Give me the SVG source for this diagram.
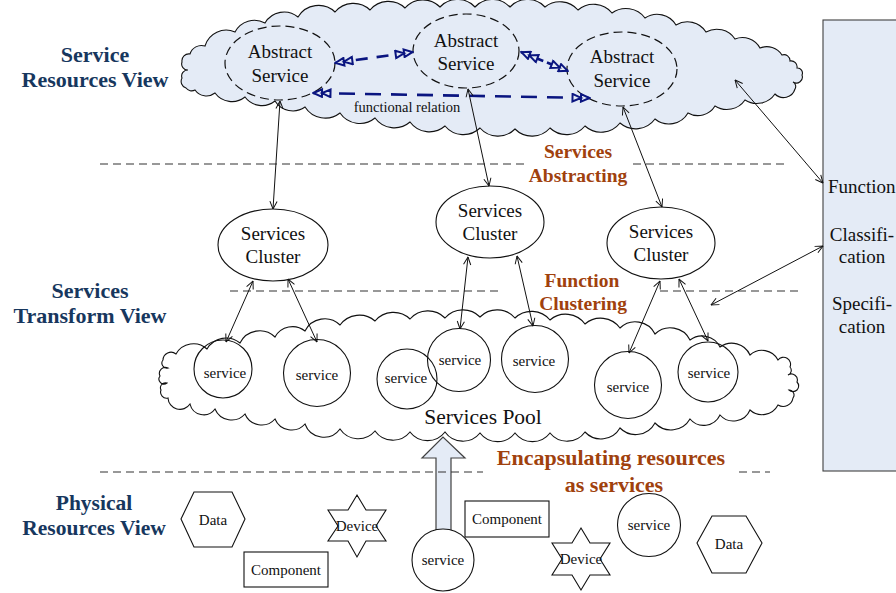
<svg xmlns="http://www.w3.org/2000/svg" width="896" height="593" viewBox="0 0 896 593">
  <defs>
    <style>
      .serif { font-family: "Liberation Serif", "Times New Roman", serif; fill: #111; }
      .lbl { font-size: 19px; text-anchor: middle; }
      .small { font-size: 15px; text-anchor: middle; }
      .view { font-family: "Liberation Serif", "Times New Roman", serif; font-weight: bold; font-size: 22px; fill: #17375e; text-anchor: middle; }
      .step { font-family: "Liberation Serif", "Times New Roman", serif; font-weight: bold; font-size: 19.5px; fill: #a0410d; text-anchor: middle; }
      .step.big { font-size: 22px; }
      .cloud { fill: #e4ebf6; stroke: #111; stroke-width: 1.1; }
      .pool { fill: #fff; stroke: #111; stroke-width: 1.1; }
      .abstract { fill: none; stroke: #111; stroke-width: 1.2; stroke-dasharray: 9 5; }
      .node { fill: #fff; stroke: #111; stroke-width: 1.1; }
      .svc { fill: none; stroke: #111; stroke-width: 1.1; }
      .sep { stroke: #333; stroke-width: 1.1; stroke-dasharray: 8 5; fill: none; }
      .link { stroke: #111; stroke-width: 1; fill: none; marker-start: url(#ah); marker-end: url(#ah); }
      .rel { stroke: #0a1580; stroke-width: 2.6; fill: none; marker-start: url(#dbl); marker-end: url(#dbl); }
    </style>
    <marker id="ah" viewBox="0 0 10 10" refX="9.5" refY="5" markerWidth="9" markerHeight="9" markerUnits="userSpaceOnUse" orient="auto-start-reverse">
      <path d="M1,1 L9.5,5 L1,9" fill="none" stroke="#111" stroke-width="1.1"/>
    </marker>
    <marker id="dbl" viewBox="0 0 20 10" refX="19" refY="5" markerWidth="20" markerHeight="10" markerUnits="userSpaceOnUse" orient="auto-start-reverse">
      <path d="M1.5,1.2 L10,5 L1.5,8.8 Z M10,1.2 L18.5,5 L10,8.8 Z" fill="#e4ebf6" stroke="#0a1580" stroke-width="2"/>
    </marker>
  </defs>

  <rect width="896" height="593" fill="#fff"/>

  <!-- view titles -->
  <g id="title-service-resources">
    <text class="view" x="95" y="62">Service</text>
    <text class="view" x="95" y="87">Resources View</text>
  </g>
  <g id="title-transform">
    <text class="view" x="90" y="298">Services</text>
    <text class="view" x="90" y="323">Transform View</text>
  </g>
  <g id="title-physical">
    <text class="view" x="94" y="510" style="font-size:21.5px">Physical</text>
    <text class="view" x="94" y="535" style="font-size:21.5px">Resources View</text>
  </g>

  <!-- layer separators -->
  <g id="separators">
    <path class="sep" d="M100,164 H525 M633,164 H788"/>
    <path class="sep" d="M230,291 H502 M660,291 H798"/>
  </g>

  <!-- service resources cloud -->
  <g id="service-cloud">
    <path class="cloud" d="M186,88
      A7,7 0 0 1 182,78 A6,6 0 0 1 188,70 A6,6 0 0 1 182,62 A7,7 0 0 1 190,54 A12,12 0 0 1 205,46
      A22,22 0 0 1 235,32 A22,22 0 0 1 265,23 A22,22 0 0 1 298,17 A24,24 0 0 1 335,12 A24,24 0 0 1 370,10
      A24,24 0 0 1 405,8 A24,24 0 0 1 440,7 A24,24 0 0 1 475,7 A24,24 0 0 1 510,7 A24,24 0 0 1 545,7
      A24,24 0 0 1 578,10 A24,24 0 0 1 612,13 A24,24 0 0 1 645,18 A22,22 0 0 1 676,25 A22,22 0 0 1 706,32
      A22,22 0 0 1 735,39 A20,20 0 0 1 760,48 A18,18 0 0 1 782,55
      A6,6 0 0 1 790,61 A6,6 0 0 1 797,68 A5,5 0 0 1 802,75 A6,6 0 0 1 793,82 A5,5 0 0 1 795,89 A12,12 0 0 1 775,94
      A22,22 0 0 1 745,100 A22,22 0 0 1 715,106 A20,20 0 0 1 688,113 A22,22 0 0 1 655,119 A24,24 0 0 1 620,123
      A24,24 0 0 1 585,126 A24,24 0 0 1 550,128 A24,24 0 0 1 515,129 A24,24 0 0 1 480,128 A24,24 0 0 1 445,126
      A24,24 0 0 1 410,122 A24,24 0 0 1 375,118 A24,24 0 0 1 340,113 A24,24 0 0 1 305,107 A21,21 0 0 1 275,101
      A21,21 0 0 1 245,97 A21,21 0 0 1 215,93 A14,14 0 0 1 195,90 A7,7 0 0 1 186,88 Z"/>
  </g>

  <g id="abstract-service-1">
    <ellipse class="abstract" cx="280" cy="63" rx="55" ry="37"/>
    <text class="serif lbl" x="280" y="58">Abstract</text>
    <text class="serif lbl" x="280" y="82">Service</text>
  </g>
  <g id="abstract-service-2">
    <ellipse class="abstract" cx="466" cy="51" rx="53" ry="37"/>
    <text class="serif lbl" x="466" y="47">Abstract</text>
    <text class="serif lbl" x="466" y="70">Service</text>
  </g>
  <g id="abstract-service-3">
    <ellipse class="abstract" cx="622" cy="69" rx="55" ry="37"/>
    <text class="serif lbl" x="622" y="63">Abstract</text>
    <text class="serif lbl" x="622" y="87">Service</text>
  </g>

  <!-- functional relations between abstract services -->
  <g id="functional-relations">
    <path class="rel" d="M335,63 L413,52" stroke-dasharray="12 9"/>
    <path class="rel" d="M521,52 L568,71" stroke-dasharray="10 4"/>
    <path class="rel" d="M313,93 L590,98" stroke-dasharray="16 10"/>
    <text class="serif" x="407" y="112" font-size="14.5" text-anchor="middle">functional relation</text>
  </g>

  <!-- function description panel -->
  <g id="function-panel">
    <rect x="823" y="20" width="90" height="451" fill="#e4ebf6" stroke="#404040" stroke-width="1.1"/>
    <text class="serif" x="828" y="193" font-size="19">Function</text>
    <text class="serif lbl" x="862" y="241">Classifi-</text>
    <text class="serif lbl" x="862" y="263">cation</text>
    <text class="serif lbl" x="862" y="310">Specifi-</text>
    <text class="serif lbl" x="862" y="333">cation</text>
  </g>

  <!-- step labels -->
  <g id="label-abstracting">
    <text class="step" x="578" y="158">Services</text>
    <text class="step" x="578" y="182">Abstracting</text>
  </g>
  <g id="label-clustering">
    <text class="step" x="582" y="287">Function</text>
    <text class="step" x="583" y="310">Clustering</text>
  </g>

  <!-- services clusters -->
  <g id="cluster-1">
    <ellipse class="node" cx="273" cy="245" rx="55" ry="36"/>
    <text class="serif lbl" x="273" y="240">Services</text>
    <text class="serif lbl" x="273" y="263">Cluster</text>
  </g>
  <g id="cluster-2">
    <ellipse class="node" cx="490" cy="222" rx="54" ry="36"/>
    <text class="serif lbl" x="490" y="217">Services</text>
    <text class="serif lbl" x="490" y="240">Cluster</text>
  </g>
  <g id="cluster-3">
    <ellipse class="node" cx="661" cy="243" rx="54" ry="36"/>
    <text class="serif lbl" x="661" y="238">Services</text>
    <text class="serif lbl" x="661" y="261">Cluster</text>
  </g>

  <!-- services pool cloud -->
  <g id="services-pool">
    <path class="pool" d="M168,398
      A6,6 0 0 1 161,390 A5,5 0 0 1 167,383 A5,5 0 0 1 160,376 A6,6 0 0 1 168,368 A5,5 0 0 1 163,360 A8,8 0 0 1 176,354
      A20,20 0 0 1 207,349 A22,22 0 0 1 240,343 A22,22 0 0 1 275,337 A20,20 0 0 1 305,331 A22,22 0 0 1 340,325
      A24,24 0 0 1 375,321 A24,24 0 0 1 410,319 A24,24 0 0 1 445,318 A24,24 0 0 1 480,317 A24,24 0 0 1 515,318
      A24,24 0 0 1 550,320 A24,24 0 0 1 585,324 A24,24 0 0 1 620,328 A22,22 0 0 1 655,334 A22,22 0 0 1 690,340
      A20,20 0 0 1 720,347 A20,20 0 0 1 750,355 A18,18 0 0 1 778,360
      A7,7 0 0 1 790,367 A5,5 0 0 1 788,375 A6,6 0 0 1 797,382 A5,5 0 0 1 789,390 A5,5 0 0 1 793,398 A10,10 0 0 1 778,405
      A18,18 0 0 1 750,410 A18,18 0 0 1 720,415 A18,18 0 0 1 690,419 A22,22 0 0 1 655,423 A22,22 0 0 1 620,428
      A22,22 0 0 1 585,432 A22,22 0 0 1 550,433 A22,22 0 0 1 515,433 A22,22 0 0 1 480,433 A22,22 0 0 1 445,432
      A22,22 0 0 1 410,432 A22,22 0 0 1 375,431 A22,22 0 0 1 340,429 A20,20 0 0 1 305,424 A18,18 0 0 1 275,419
      A18,18 0 0 1 245,414 A18,18 0 0 1 215,409 A14,14 0 0 1 190,404 A12,12 0 0 1 168,398 Z"/>
    <text class="serif" x="483" y="424" font-size="21.5" text-anchor="middle">Services Pool</text>
  </g>

  <g id="pool-service-1"><circle class="svc" cx="223" cy="369" r="29"/><text class="serif small" x="225" y="378">service</text></g>
  <g id="pool-service-2"><circle class="svc" cx="317" cy="373" r="33.5"/><text class="serif small" x="317" y="380">service</text></g>
  <g id="pool-service-3"><circle class="svc" cx="407" cy="379" r="30"/><text class="serif small" x="406" y="383">service</text></g>
  <g id="pool-service-4"><circle class="svc" cx="459" cy="360" r="31.5"/><text class="serif small" x="460" y="365">service</text></g>
  <g id="pool-service-5"><circle class="svc" cx="535" cy="359" r="33.5"/><text class="serif small" x="534" y="366">service</text></g>
  <g id="pool-service-6"><circle class="svc" cx="628" cy="385" r="33.5"/><text class="serif small" x="628" y="392">service</text></g>
  <g id="pool-service-7"><circle class="svc" cx="708" cy="372" r="30"/><text class="serif small" x="709" y="378">service</text></g>

  <!-- encapsulation: resource turned into a service -->
  <g id="encapsulate-arrow">
    <path d="M436,531 V458 H422 L443,437 L465,458 H451 V531" fill="#e4ebf6" stroke="#404040" stroke-width="1.2"/>
  </g>

  <g id="separator-physical">
    <path class="sep" d="M100,472 H483 M739,472 H770"/>
  </g>

  <g id="label-encapsulating">
    <text class="step big" x="611" y="465">Encapsulating resources</text>
    <text class="step big" x="614" y="492">as services</text>
  </g>

  <!-- physical resources -->
  <g id="data-1">
    <polygon class="node" points="181,519 194,492 232,492 245,519 232,547 194,547"/>
    <text class="serif small" x="213" y="525">Data</text>
  </g>
  <g id="device-1">
    <polygon class="node" points="357,495 366,510 386,510 376,526 386,541 366,541 357,557 348,541 328,541 338,526 328,510 348,510"/>
    <text class="serif small" x="357" y="531">Device</text>
  </g>
  <g id="component-1">
    <rect class="node" x="244" y="552" width="84" height="35"/>
    <text class="serif small" x="286" y="575">Component</text>
  </g>
  <g id="component-2">
    <rect class="node" x="465" y="501" width="84" height="36"/>
    <text class="serif small" x="507" y="524">Component</text>
  </g>
  <g id="service-physical-1">
    <circle class="node" cx="443" cy="560" r="31"/>
    <text class="serif small" x="443" y="565">service</text>
  </g>
  <g id="device-2">
    <polygon class="node" points="581,528 590,543 610,543 600,559 610,575 590,575 581,590 572,575 552,575 562,559 552,543 572,543"/>
    <text class="serif small" x="581" y="564">Device</text>
  </g>
  <g id="service-physical-2">
    <circle class="node" cx="649" cy="525" r="31.5"/>
    <text class="serif small" x="649" y="530">service</text>
  </g>
  <g id="data-2">
    <polygon class="node" points="697,543 712,516 746,516 762,543 746,573 712,573"/>
    <text class="serif small" x="729" y="549">Data</text>
  </g>

  <!-- connectors -->
  <g id="connectors">
    <path class="link" d="M280,101 L273,209"/>
    <path class="link" d="M468,89 L489,186"/>
    <path class="link" d="M623,107 L662,207"/>
    <path class="link" d="M735,80 L823,183"/>
    <path class="link" d="M823,246 L711,305"/>
    <path class="link" d="M253,281 L226,342"/>
    <path class="link" d="M288,279 L317,342"/>
    <path class="link" d="M468,257 L460,329"/>
    <path class="link" d="M517,256 L533,326"/>
    <path class="link" d="M660,281 L629,353"/>
    <path class="link" d="M679,279 L708,341"/>
  </g>
</svg>
